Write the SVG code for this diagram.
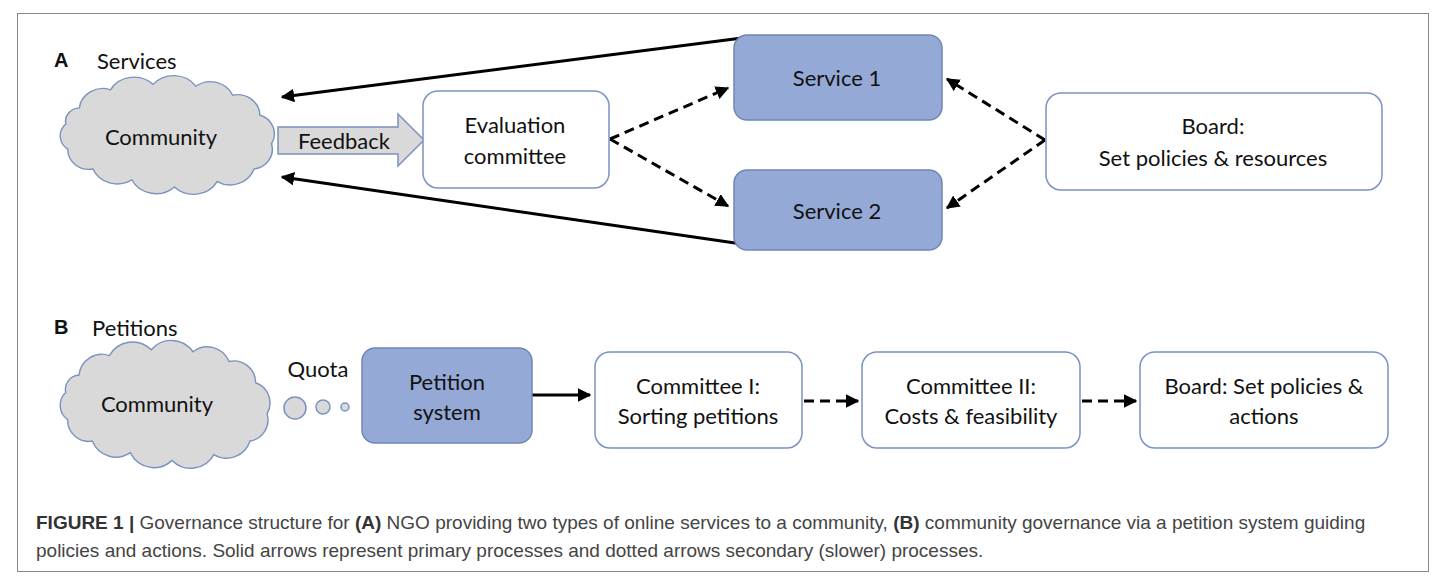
<svg xmlns="http://www.w3.org/2000/svg" width="1442" height="580" viewBox="0 0 1442 580">
<style>
.t{font-family:Lato,"Open Sans","Liberation Sans",sans-serif;font-size:22px;fill:#111;text-anchor:middle;dominant-baseline:central}
.box{fill:#fff;stroke:#7a93c0;stroke-width:1.5}
.blue{fill:#95a9d6;stroke:#6f86b8;stroke-width:1.5}
.cloud{fill:#d9d9d9;stroke:#7a93c0;stroke-width:1.5}
.solid{stroke:#000;stroke-width:3;fill:none}
.dash{stroke:#000;stroke-width:3;fill:none;stroke-dasharray:10 6}
.cap{font-family:"Liberation Sans",Arial,sans-serif;font-size:19px;fill:#444}
.lbl{font-family:"Liberation Sans",Arial,sans-serif;font-size:20px;font-weight:bold;fill:#111}
</style>
<defs>
<marker id="ah" viewBox="0 0 10 10" refX="9" refY="5" markerWidth="4.5" markerHeight="4.5" orient="auto-start-reverse" markerUnits="strokeWidth">
<path d="M0,0 L10,5 L0,10 Z" fill="#000"/>
</marker>
<path id="cloudp" d="M20,32 A24,24 0 0 1 52,12 A28,28 0 0 1 96,6 A28,28 0 0 1 140,8 A25,25 0 0 1 178,18 A23,23 0 0 1 206,40 A22,22 0 0 1 218,72 A22,22 0 0 1 200,100 A26,26 0 0 1 162,114 A28,28 0 0 1 118,120 A28,28 0 0 1 74,112 A27,27 0 0 1 34,100 A22,22 0 0 1 8,78 A18,18 0 0 1 6,50 A15,15 0 0 1 20,32 Z"/>
</defs>
<rect x="17.5" y="13.5" width="1411" height="558" fill="#fff" stroke="#888" stroke-width="1"/>

<g id="connectors">
<line class="solid" x1="742" y1="38" x2="282" y2="97" marker-end="url(#ah)"/>
<line class="solid" x1="742" y1="244" x2="282" y2="177" marker-end="url(#ah)"/>
<line class="dash" x1="610" y1="139" x2="728" y2="88" marker-end="url(#ah)"/>
<line class="dash" x1="610" y1="139" x2="728" y2="206" marker-end="url(#ah)"/>
<line class="dash" x1="1045" y1="140" x2="947" y2="79" marker-end="url(#ah)"/>
<line class="dash" x1="1045" y1="140" x2="947" y2="208" marker-end="url(#ah)"/>
<line class="solid" x1="532" y1="395" x2="590" y2="395" marker-end="url(#ah)"/>
<line class="dash" x1="804" y1="401" x2="858" y2="401" marker-end="url(#ah)"/>
<line class="dash" x1="1082" y1="401" x2="1136" y2="401" marker-end="url(#ah)"/>
</g>

<g id="labelA"><text class="lbl" x="54" y="67">A</text><text class="t" x="97" y="60" style="text-anchor:start">Services</text></g>
<g id="labelB"><text class="lbl" x="54" y="334">B</text><text class="t" x="92" y="327" style="text-anchor:start">Petitions</text></g>

<g id="communityA">
<use href="#cloudp" class="cloud" transform="translate(60,79) scale(0.97,0.9)"/>
<text class="t" x="161" y="136">Community</text>
</g>
<g id="feedback">
<polygon class="cloud" points="278,127 398,127 398,114 424,140 398,166 398,154 278,154"/>
<text class="t" x="344" y="140">Feedback</text>
</g>
<g id="evaluation">
<rect class="box" x="423" y="91" width="186" height="97" rx="15"/>
<text class="t" x="515" y="124">Evaluation</text>
<text class="t" x="515" y="155">committee</text>
</g>
<g id="service1">
<rect class="blue" x="734" y="35" width="208" height="85" rx="13"/>
<text class="t" x="837" y="77">Service 1</text>
</g>
<g id="service2">
<rect class="blue" x="734" y="170" width="208" height="80" rx="13"/>
<text class="t" x="837" y="210">Service 2</text>
</g>
<g id="boardA">
<rect class="box" x="1046" y="93" width="336" height="97" rx="15"/>
<text class="t" x="1213" y="125">Board:</text>
<text class="t" x="1213" y="157">Set policies &amp; resources</text>
</g>

<g id="communityB">
<use href="#cloudp" class="cloud" transform="translate(60,344) scale(0.95,0.97)"/>
<text class="t" x="157" y="403">Community</text>
</g>
<g id="quota">
<text class="t" x="318" y="368">Quota</text>
<circle class="cloud" cx="295" cy="408" r="11"/>
<circle class="cloud" cx="323" cy="407" r="7"/>
<circle class="cloud" cx="345" cy="407" r="4"/>
</g>
<g id="petition">
<rect class="blue" x="362" y="348" width="170" height="95" rx="13"/>
<text class="t" x="447" y="381">Petition</text>
<text class="t" x="447" y="411">system</text>
</g>
<g id="committee1">
<rect class="box" x="595" y="352" width="207" height="96" rx="15"/>
<text class="t" x="698" y="385">Committee I:</text>
<text class="t" x="698" y="415">Sorting petitions</text>
</g>
<g id="committee2">
<rect class="box" x="862" y="352" width="218" height="96" rx="15"/>
<text class="t" x="971" y="385">Committee II:</text>
<text class="t" x="971" y="415">Costs &amp; feasibility</text>
</g>
<g id="boardB">
<rect class="box" x="1140" y="352" width="248" height="96" rx="15"/>
<text class="t" x="1264" y="385">Board: Set policies &amp;</text>
<text class="t" x="1264" y="415">actions</text>
</g>

<g id="caption">
<text class="cap" x="36" y="529"><tspan font-weight="bold" fill="#333">FIGURE 1 | </tspan>Governance structure for <tspan font-weight="bold" fill="#333">(A)</tspan> NGO providing two types of online services to a community, <tspan font-weight="bold" fill="#333">(B)</tspan> community governance via a petition system guiding</text>
<text class="cap" x="36" y="557">policies and actions. Solid arrows represent primary processes and dotted arrows secondary (slower) processes.</text>
</g>
</svg>
